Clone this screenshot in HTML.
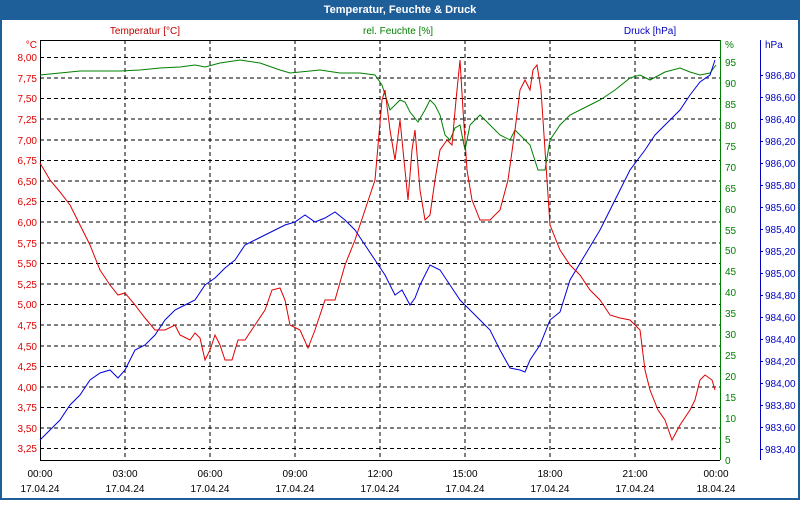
<!DOCTYPE html><html><head><meta charset="utf-8"><style>
body{margin:0;width:800px;height:500px;overflow:hidden;background:#fff;font-family:"Liberation Sans",sans-serif}
</style></head><body>
<svg width="800" height="500" xmlns="http://www.w3.org/2000/svg" font-family="Liberation Sans, sans-serif" font-size="10">
<rect x="0" y="0" width="800" height="500" fill="#1e5f9a"/>
<rect x="2" y="20" width="796" height="478" fill="#fff"/>
<text x="400" y="13" text-anchor="middle" fill="#fff" font-weight="bold" font-size="11">Temperatur, Feuchte &amp; Druck</text>
<text x="145" y="34" text-anchor="middle" fill="#c00000">Temperatur [°C]</text>
<text x="398" y="34" text-anchor="middle" fill="#008000">rel. Feuchte [%]</text>
<text x="650" y="34" text-anchor="middle" fill="#0000c0">Druck [hPa]</text>
<g stroke="#000" stroke-dasharray="4,3" stroke-width="1">
<path d="M125 40V460M210 40V460M295 40V460M380 40V460M465 40V460M550 40V460M635 40V460"/>
<path d="M40 57.5H720M40 78H720M40 98.5H720M40 119H720M40 140H720M40 160.5H720M40 181H720M40 201.5H720M40 222H720M40 243H720M40 263.5H720M40 284H720M40 304.5H720M40 325H720M40 346H720M40 366.5H720M40 387H720M40 407.5H720M40 428H720M40 448.5H720"/>
</g>
<path d="M40.5 40V460.5H720" stroke="#000" fill="none"/>
<path d="M40 40.5H720" stroke="#000"/>
<path d="M720.5 40V460" stroke="#008000"/>
<path d="M760.5 40V460" stroke="#0000c0"/>
<path d="M760 75.5h3M760 97.5h3M760 119.5h3M760 141.5h3M760 163.5h3M760 185.5h3M760 207.5h3M760 229.5h3M760 251.5h3M760 273.5h3M760 295.5h3M760 317.5h3M760 339.5h3M760 361.5h3M760 383.5h3M760 405.5h3M760 427.5h3M760 449.5h3" stroke="#0000c0"/>
<g fill="#e00000" text-anchor="end">
<text x="37" y="48">°C</text>
<text x="37" y="61">8,00</text><text x="37" y="82">7,75</text><text x="37" y="102">7,50</text><text x="37" y="123">7,25</text><text x="37" y="144">7,00</text><text x="37" y="164">6,75</text><text x="37" y="185">6,50</text><text x="37" y="205">6,25</text><text x="37" y="226">6,00</text><text x="37" y="247">5,75</text><text x="37" y="267">5,50</text><text x="37" y="288">5,25</text><text x="37" y="308">5,00</text><text x="37" y="329">4,75</text><text x="37" y="350">4,50</text><text x="37" y="370">4,25</text><text x="37" y="391">4,00</text><text x="37" y="411">3,75</text><text x="37" y="432">3,50</text><text x="37" y="452">3,25</text>
</g>
<g fill="#008000">
<text x="725" y="48">%</text>
<text x="725" y="464">0</text><text x="725" y="443">5</text><text x="725" y="422">10</text><text x="725" y="401">15</text><text x="725" y="380">20</text><text x="725" y="359">25</text><text x="725" y="338">30</text><text x="725" y="317">35</text><text x="725" y="296">40</text><text x="725" y="275">45</text><text x="725" y="254">50</text><text x="725" y="234">55</text><text x="725" y="213">60</text><text x="725" y="192">65</text><text x="725" y="171">70</text><text x="725" y="150">75</text><text x="725" y="129">80</text><text x="725" y="108">85</text><text x="725" y="87">90</text><text x="725" y="66">95</text>
</g>
<g fill="#0000c0">
<text x="765" y="48">hPa</text>
<text x="765" y="79">986,80</text><text x="765" y="101">986,60</text><text x="765" y="123">986,40</text><text x="765" y="145">986,20</text><text x="765" y="167">986,00</text><text x="765" y="189">985,80</text><text x="765" y="211">985,60</text><text x="765" y="233">985,40</text><text x="765" y="255">985,20</text><text x="765" y="277">985,00</text><text x="765" y="299">984,80</text><text x="765" y="321">984,60</text><text x="765" y="343">984,40</text><text x="765" y="365">984,20</text><text x="765" y="387">984,00</text><text x="765" y="409">983,80</text><text x="765" y="431">983,60</text><text x="765" y="453">983,40</text>
</g>
<g fill="#000" text-anchor="middle">
<text x="40" y="477">00:00</text><text x="125" y="477">03:00</text><text x="210" y="477">06:00</text><text x="295" y="477">09:00</text><text x="380" y="477">12:00</text><text x="465" y="477">15:00</text><text x="550" y="477">18:00</text><text x="635" y="477">21:00</text><text x="716" y="477">00:00</text>
<text x="40" y="492">17.04.24</text><text x="125" y="492">17.04.24</text><text x="210" y="492">17.04.24</text><text x="295" y="492">17.04.24</text><text x="380" y="492">17.04.24</text><text x="465" y="492">17.04.24</text><text x="550" y="492">17.04.24</text><text x="635" y="492">17.04.24</text><text x="716" y="492">18.04.24</text>
</g>
<polyline fill="none" stroke="#008000" points="40,75 60,73 80,71 120,71 140,70 160,68 180,67 195,65 205,67 220,63 240,60 260,63 280,70 290,73 300,72 320,70 340,73 360,73 375,75 382,85 390,110 395,105 400,100 405,102 410,112 418,122 425,110 430,100 435,105 440,115 445,135 450,140 455,128 460,125 465,150 470,125 480,115 490,125 500,135 510,140 515,130 520,135 530,145 538,170 545,170 550,140 560,125 570,115 590,105 600,100 615,90 630,78 640,75 650,80 665,72 680,68 690,72 700,75 710,73 716,65"/>
<polyline fill="none" stroke="#0000e0" points="40,440 50,430 60,420 70,405 80,395 90,380 100,373 110,370 118,378 125,370 135,350 145,345 155,335 165,320 175,310 185,305 195,300 205,285 215,278 225,268 235,260 245,245 255,240 265,235 275,230 285,225 295,222 305,215 315,222 325,218 335,212 345,220 355,230 365,245 375,260 385,275 395,295 402,290 410,305 415,298 420,285 430,265 440,270 450,285 460,300 470,310 480,320 490,330 500,350 510,368 520,370 525,372 530,360 540,345 550,320 560,312 570,280 585,255 600,230 615,200 630,170 645,150 655,135 665,125 680,110 690,95 700,82 710,75 715,60"/>
<polyline fill="none" stroke="#e00000" points="40,163 50,180 60,192 70,205 80,225 90,245 100,270 110,285 118,295 125,293 135,305 145,318 155,330 165,330 175,325 180,335 190,340 195,333 200,338 205,360 210,350 215,335 220,345 225,360 232,360 238,340 245,340 255,325 265,310 272,290 280,288 285,300 290,325 300,330 308,348 315,330 325,300 335,300 345,265 355,240 365,210 375,180 382,100 385,90 390,130 395,160 400,120 405,170 408,200 412,150 415,130 420,190 425,220 430,215 435,180 440,150 447,140 452,145 456,100 460,60 463,110 467,170 472,200 480,220 490,220 500,210 508,180 515,130 520,90 525,80 530,90 533,70 537,65 541,90 545,150 550,225 560,250 570,265 580,275 590,290 600,300 610,315 620,318 630,320 640,330 645,370 650,390 658,410 665,420 672,440 680,425 690,410 695,400 700,380 705,375 712,380 715,390"/>
</svg>
</body></html>
